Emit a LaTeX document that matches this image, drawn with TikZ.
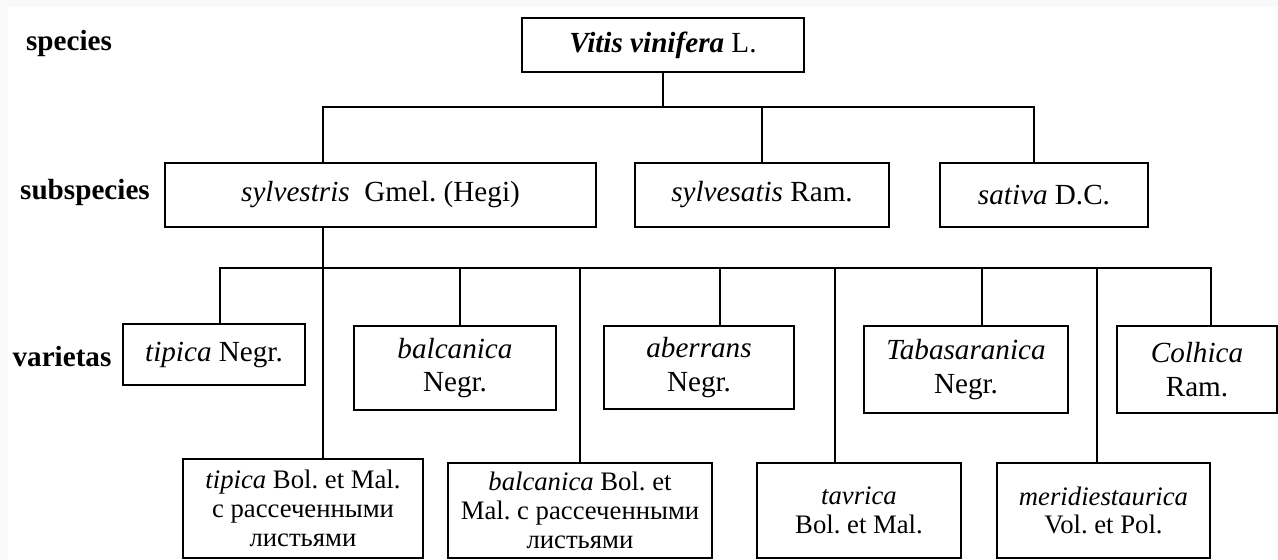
\documentclass[tikz,border=0pt]{standalone}
\usepackage{fontspec}
\setmainfont{Liberation Serif}
\usetikzlibrary{calc}
\frenchspacing

\begin{document}
\begin{tikzpicture}[x=0.02cm, y=-0.02cm,
	every node/.style={font=\fontsize{16.6}{19}\selectfont},
	taxon/.style={draw=black, line width=1.1pt, align=center, inner sep=2pt},
	lowtaxon/.style={taxon, font=\fontsize{15.2}{16.4}\selectfont},
	rank/.style={font=\fontsize{16.6}{19}\selectfont\bfseries},
	thinl/.style={line width=0.6pt},
	thickl/.style={line width=1.1pt}]

\useasboundingbox (0,0) rectangle (1278,560);
\fill[gray!5] (0,0) rectangle (1278,560);
\fill[white] (8,7) rectangle (1278,560);

% Ranks
\node[rank] (lsp) at (69,43) {species};
\node[rank] (lsub) at (85,192) {subspecies};
\node[rank] (lvar) at (62,357) {varietas};

% Species
\node[taxon, minimum width=5.64cm, minimum height=1.08cm] (vv) at (663,45) {\textbf{\textit{Vitis vinifera}} L.};

% Subspecies
\node[taxon, minimum width=8.62cm, minimum height=1.28cm] (sylv) at (380.5,195) {\textit{sylvestris}\ \ Gmel. (Hegi)};
\node[taxon, minimum width=5.08cm, minimum height=1.28cm] (syls) at (762,195) {\textit{sylvesatis} Ram.};
\node[taxon, minimum width=4.16cm, minimum height=1.28cm] (sat) at (1044,195) {\textit{sativa} D.C.};

% Varietas, upper row
\node[taxon, minimum width=3.64cm, minimum height=1.22cm] (tn) at (214,354.5) {\textit{tipica} Negr.};
\node[taxon, minimum width=4.04cm, minimum height=1.68cm] (bn) at (455,368) {\textit{balcanica}\\Negr.};
\node[taxon, minimum width=3.8cm, minimum height=1.66cm] (ab) at (699,367.5) {\textit{aberrans}\\Negr.};
\node[taxon, minimum width=4.08cm, minimum height=1.74cm] (tab) at (966,369.5) {\textit{Tabasaranica}\\Negr.};
\node[taxon, minimum width=3.2cm, minimum height=1.74cm] (col) at (1197,369.5) {\textit{Colhica}\\Ram.};

% Varietas, lower row
\node[lowtaxon, minimum width=4.8cm, minimum height=1.98cm] (tb) at (303,508.5) {\textit{tipica} Bol. et Mal.\\с рассеченными\\листьями};
\node[lowtaxon, minimum width=5.28cm, minimum height=1.9cm] (bb) at (580,510.5) {\textit{balcanica} Bol. et\\Mal. с рассеченными\\листьями};
\node[lowtaxon, minimum width=4.08cm, minimum height=1.9cm] (tv) at (859,510.5) {\textit{tavrica}\\Bol. et Mal.};
\node[lowtaxon, minimum width=4.26cm, minimum height=1.9cm] (md) at (1103.5,510.5) {\textit{meridiestaurica}\\Vol. et Pol.};

% Species to subspecies
\coordinate (s1) at (323,107);
\coordinate (s2) at (1034,107);
\draw[thinl] (vv.south) -- (vv.south |- s1);
\draw[thinl] (sylv.north -| s1) |- (s2) -- (sat.north -| s2);
\draw[thickl] (syls.north) -- (syls.north |- s1);

% Subspecies to varietas
\coordinate (v1) at (220,268);
\coordinate (v2) at (1211,268);
\draw[thickl] (tn.north -| v1) |- (v2) -- (col.north -| v2);
\draw[thinl] (sylv.south -| s1) -- (tb.north -| s1);
\foreach \n/\x/\w in {bn/460/thinl, ab/720/thinl, tab/982/thinl, bb/580/thickl, tv/835/thickl, md/1097/thinl}{
	\coordinate (d\n) at (\x,268);
	\draw[\w] (d\n) -- (\n.north -| d\n);
}
\end{tikzpicture}
\end{document}
